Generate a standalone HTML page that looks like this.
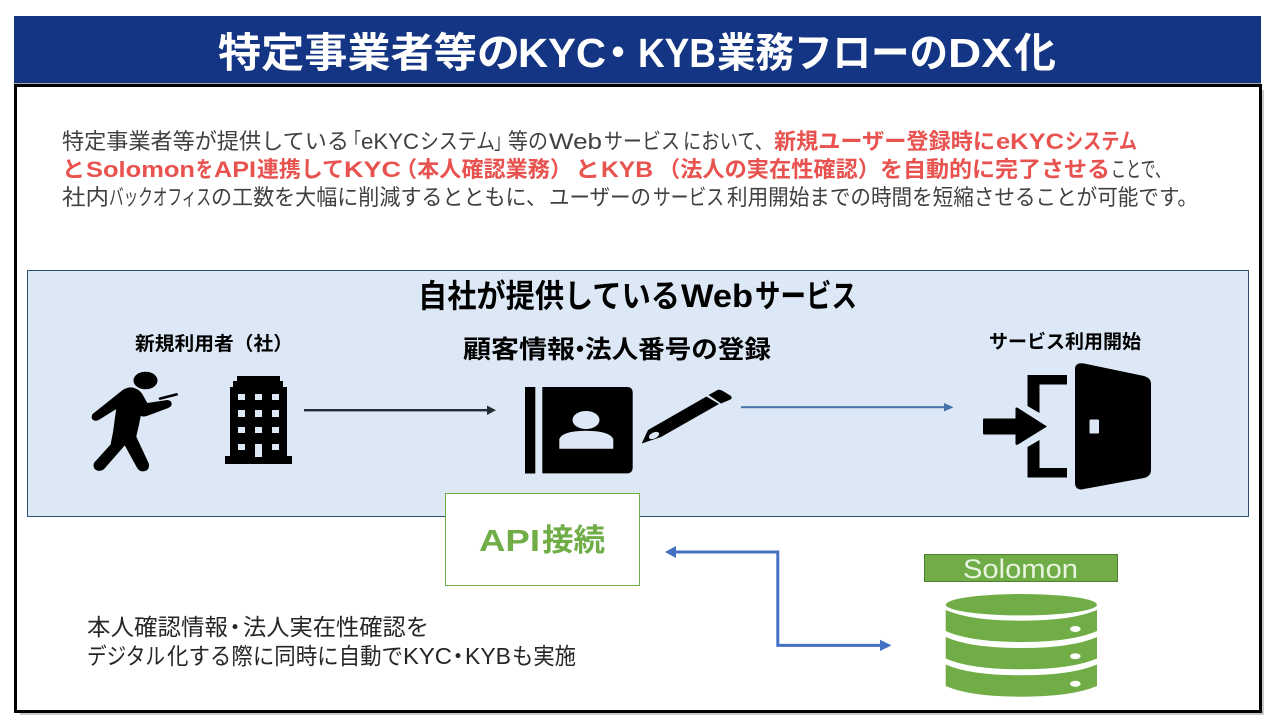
<!DOCTYPE html>
<html lang="ja">
<head>
<meta charset="utf-8">
<style>
html,body{margin:0;padding:0;background:#fff;width:1280px;height:720px;overflow:hidden}
svg{display:block}
text{font-family:"Liberation Sans","Noto Sans CJK JP",sans-serif}
.b{font-weight:700}
.t{font-size:41px;font-weight:700;fill:#fff}
.n{font-size:22px;fill:#404040}
.r{font-size:22px;font-weight:700;fill:#e8524f}
.h{font-size:32px;font-weight:700;fill:#000}
.g{font-size:25px;font-weight:700;fill:#000}
.d{font-size:23px;fill:#262626}
</style>
</head>
<body>
<svg width="1280" height="720" viewBox="0 0 1280 720" xmlns="http://www.w3.org/2000/svg">
<rect width="1280" height="720" fill="#fff"/>
<rect x="14" y="16" width="1247" height="67" fill="#143583"/>
<rect x="14" y="83" width="1247" height="1" fill="#a8a8a8"/>
<path d="M1262 90 H1264 V715 H20 V713 H1262 Z" fill="#c8c8c8"/>
<rect x="15.5" y="85.5" width="1245" height="626" fill="#fff" stroke="#000" stroke-width="3"/>

<!-- title -->
<text class="t" x="218" y="67" textLength="302" lengthAdjust="spacingAndGlyphs">特定事業者等の</text>
<text class="t" x="518" y="67" textLength="88" lengthAdjust="spacingAndGlyphs">KYC</text>
<text class="t" x="618" y="67" text-anchor="middle" font-size="34">・</text>
<text class="t" x="638" y="67" textLength="78" lengthAdjust="spacingAndGlyphs">KYB</text>
<text class="t" x="717" y="67" textLength="231" lengthAdjust="spacingAndGlyphs">業務フローの</text>
<text class="t" x="948" y="67" textLength="64" lengthAdjust="spacingAndGlyphs">DX</text>
<text class="t" x="1014" y="67" textLength="42" lengthAdjust="spacingAndGlyphs">化</text>

<!-- line 1 -->
<text class="n" x="62" y="149" textLength="287" lengthAdjust="spacingAndGlyphs">特定事業者等が提供している</text>
<text class="n" x="345" y="149" textLength="16" lengthAdjust="spacingAndGlyphs">「</text>
<text class="n" x="361" y="149" textLength="58" lengthAdjust="spacingAndGlyphs">eKYC</text>
<text class="n" x="420" y="149" textLength="75" lengthAdjust="spacingAndGlyphs">システム</text>
<text class="n" x="494" y="149" textLength="16" lengthAdjust="spacingAndGlyphs">」</text>
<text class="n" x="508" y="149" textLength="40" lengthAdjust="spacingAndGlyphs">等の</text>
<text class="n" x="549" y="149" textLength="53" lengthAdjust="spacingAndGlyphs">Web</text>
<text class="n" x="604" y="149" textLength="76" lengthAdjust="spacingAndGlyphs">サービス</text>
<text class="n" x="683" y="149" textLength="90" lengthAdjust="spacingAndGlyphs">において、</text>
<text class="r" x="774" y="149" textLength="221" lengthAdjust="spacingAndGlyphs">新規ユーザー登録時に</text>
<text class="r" x="996" y="149" textLength="68" lengthAdjust="spacingAndGlyphs">eKYC</text>
<text class="r" x="1065" y="149" textLength="72" lengthAdjust="spacingAndGlyphs">システム</text>

<!-- line 2 -->
<text class="r" x="62" y="177" textLength="23" lengthAdjust="spacingAndGlyphs">と</text>
<text class="r" x="86" y="177" textLength="109" lengthAdjust="spacingAndGlyphs">Solomon</text>
<text class="r" x="196" y="177" textLength="17" lengthAdjust="spacingAndGlyphs">を</text>
<text class="r" x="214" y="177" textLength="42" lengthAdjust="spacingAndGlyphs">API</text>
<text class="r" x="257" y="177" textLength="87" lengthAdjust="spacingAndGlyphs">連携して</text>
<text class="r" x="344" y="177" textLength="57" lengthAdjust="spacingAndGlyphs">KYC</text>
<text class="r" x="395" y="177" textLength="177" lengthAdjust="spacingAndGlyphs">（本人確認業務）</text>
<text class="r" x="575" y="177" textLength="25" lengthAdjust="spacingAndGlyphs">と</text>
<text class="r" x="601" y="177" textLength="52" lengthAdjust="spacingAndGlyphs">KYB</text>
<text class="r" x="658" y="177" textLength="222" lengthAdjust="spacingAndGlyphs">（法人の実在性確認）</text>
<text class="r" x="880" y="177" textLength="230" lengthAdjust="spacingAndGlyphs">を自動的に完了させる</text>
<text class="n" x="1111" y="177" textLength="59" lengthAdjust="spacingAndGlyphs">ことで、</text>

<!-- line 3 -->
<text class="n" x="62" y="205" textLength="47" lengthAdjust="spacingAndGlyphs">社内</text>
<text class="n" x="109" y="205" textLength="102" lengthAdjust="spacingAndGlyphs">バックオフィス</text>
<text class="n" x="211" y="205" textLength="336" lengthAdjust="spacingAndGlyphs">の工数を大幅に削減するとともに、</text>
<text class="n" x="549" y="205" textLength="102" lengthAdjust="spacingAndGlyphs">ユーザーの</text>
<text class="n" x="653" y="205" textLength="71" lengthAdjust="spacingAndGlyphs">サービス</text>
<text class="n" x="727" y="205" textLength="471" lengthAdjust="spacingAndGlyphs">利用開始までの時間を短縮させることが可能です。</text>

<rect x="27.5" y="270.5" width="1221" height="246" fill="#dce8f5" stroke="#2f5070" stroke-width="1"/>
<text class="h" x="418" y="307" textLength="262" lengthAdjust="spacingAndGlyphs">自社が提供している</text>
<text class="h" x="681" y="307" textLength="72" lengthAdjust="spacingAndGlyphs">Web</text>
<text class="h" x="755" y="307" textLength="102" lengthAdjust="spacingAndGlyphs">サービス</text>
<text class="b" x="135" y="350" font-size="19" fill="#000" textLength="158" lengthAdjust="spacingAndGlyphs">新規利用者（社）</text>
<text class="g" x="463" y="358" textLength="112" lengthAdjust="spacingAndGlyphs">顧客情報</text>
<text class="g" x="580" y="358" text-anchor="middle" font-size="20">・</text>
<text class="g" x="585" y="358" textLength="186" lengthAdjust="spacingAndGlyphs">法人番号の登録</text>
<text class="b" x="989" y="348" font-size="19" fill="#000" textLength="152" lengthAdjust="spacingAndGlyphs">サービス利用開始</text>

<!-- person -->
<ellipse cx="145.5" cy="380.5" rx="12" ry="8.8" fill="#000"/>
<path d="M93.8 414.6 L123.3 391 Q130 386.8 136 390 Q140 392 142 396 L146.7 404.3 L167.5 401.2 Q170.8 401.5 170.4 404.5 Q170 406 167.5 407 L146 415 Q141.5 416 140 413.5 L137.7 425 L135 436.7 L147.7 464 Q148.5 469 144.5 470 Q140 471 138 467 L125 443.3 L103 468.5 Q98.5 471 95.5 468 Q93.5 464.5 96.7 461.7 L111.7 445 L114.3 431.7 L117.7 406.7 L98 419 Q94.5 420.5 93 418 Q92.5 416 93.8 414.6 Z" fill="#000" stroke="#000" stroke-width="2.4" stroke-linejoin="round"/>
<path d="M160 398.6 L176.7 394.4" stroke="#000" stroke-width="2.6" fill="none" stroke-linecap="round"/>

<!-- building -->
<path d="M225 464 V456 H230 V387 H233 V381 H237 V376 H280 V381 H283 V387 H287 V456 H292 V464 Z" fill="#000"/>
<g fill="#dce8f5">
<rect x="238" y="394" width="7" height="6"/><rect x="255" y="394" width="7" height="6"/><rect x="272" y="394" width="7" height="6"/>
<rect x="238" y="410" width="7" height="7"/><rect x="255" y="410" width="7" height="7"/><rect x="272" y="410" width="7" height="7"/>
<rect x="238" y="427" width="7" height="6"/><rect x="255" y="427" width="7" height="6"/><rect x="272" y="427" width="7" height="6"/>
<rect x="238" y="444" width="7" height="6"/><rect x="255" y="444" width="7" height="13"/><rect x="272" y="444" width="7" height="6"/>
</g>

<!-- arrow 1 -->
<rect x="304" y="409" width="184" height="2.4" fill="#262c33"/>
<path d="M487 405.5 L496 410.2 L487 415 Z" fill="#262c33"/>

<!-- book -->
<rect x="525" y="387" width="10.3" height="86.5" fill="#000"/>
<path d="M542.3 387 H627 Q632.7 387 632.7 393 V467 Q632.7 473.4 627 473.4 H542.3 Z" fill="#000"/>
<ellipse cx="586" cy="420" rx="13.5" ry="9" fill="#dce8f5"/>
<path d="M559.3 448.7 V439 Q562 431 586 430.7 Q610 431 613.3 439 V448.7 Z" fill="#dce8f5"/>

<!-- pen -->
<path d="M641.7 443.5 L648 430 L706.5 396.5 L719 404 L661 437 Z" fill="#000"/>
<path d="M708.5 395 L718 389.8 Q720 389.5 722 390.5 L731 396 Q732.5 398 730.5 399.5 L721 403.5 Z" fill="#000"/>
<ellipse cx="654" cy="435.5" rx="5.5" ry="3" transform="rotate(-25 654 435.5)" fill="#dce8f5"/>

<!-- arrow 2 -->
<rect x="741" y="406.2" width="204" height="2" fill="#4472a8"/>
<path d="M944 403 L953.5 407.2 L944 411.5 Z" fill="#4472a8"/>

<!-- door -->
<path d="M1075 368 Q1076 362 1084 363.5 L1144 376 Q1151 378 1151 384 V470 Q1151 476 1144 478 L1084 489 Q1076 491 1075 484 Z" fill="#000"/>
<rect x="1089.5" y="419.5" width="9.5" height="14" rx="1" fill="#dce8f5"/>
<path d="M1027.5 375 H1067 V384.5 H1039.5 V413 L1027.5 406 Z" fill="#000"/>
<path d="M1027.5 447 L1039.5 440 V468 H1067 V477.5 H1027.5 Z" fill="#000"/>
<path d="M983 419.5 Q983 418.5 984 418.5 H1015.5 V408 Q1016 407 1018 408 L1047 426.5 L1018 444.5 Q1016 445.5 1015.5 444 V434.5 H984 Q983 434.5 983 433 Z" fill="#000"/>

<!-- API box -->
<rect x="445.5" y="493.5" width="194" height="92" fill="#fff" stroke="#70ad47" stroke-width="1"/>
<text class="b" x="479" y="551" font-size="31" fill="#70ad47" textLength="61" lengthAdjust="spacingAndGlyphs">API</text>
<text class="b" x="542" y="551" font-size="31" fill="#70ad47" textLength="63" lengthAdjust="spacingAndGlyphs">接続</text>

<!-- elbow -->
<path d="M675 552 H777.8 V645.4 H881" fill="none" stroke="#4472c4" stroke-width="3"/>
<path d="M665 552 L676 546 V558 Z" fill="#4472c4"/>
<path d="M891.5 645.4 L880 639.8 V651 Z" fill="#4472c4"/>

<!-- text -->
<text class="d" x="87" y="635" textLength="141" lengthAdjust="spacingAndGlyphs">本人確認情報</text>
<text class="d" x="235" y="635" text-anchor="middle" font-size="18">・</text>
<text class="d" x="243" y="635" textLength="186" lengthAdjust="spacingAndGlyphs">法人実在性確認を</text>
<text class="d" x="87" y="664" textLength="78" lengthAdjust="spacingAndGlyphs">デジタル</text>
<text class="d" x="167" y="664" textLength="236" lengthAdjust="spacingAndGlyphs">化する際に同時に自動で</text>
<text class="d" x="403" y="664" textLength="49" lengthAdjust="spacingAndGlyphs">KYC</text>
<text class="d" x="458" y="664" text-anchor="middle" font-size="18">・</text>
<text class="d" x="465" y="664" textLength="46" lengthAdjust="spacingAndGlyphs">KYB</text>
<text class="d" x="512" y="664" textLength="64" lengthAdjust="spacingAndGlyphs">も実施</text>

<!-- Solomon -->
<rect x="924.5" y="554.5" width="193" height="27" fill="#70ad47" stroke="#507e32" stroke-width="1"/>
<text x="963" y="578" font-size="27" fill="#e8f3e0" textLength="115" lengthAdjust="spacingAndGlyphs">Solomon</text>

<!-- database -->
<g fill="#70ad47">
<ellipse cx="1021.4" cy="604.7" rx="75.6" ry="10.7"/>
<path d="M945.7 610 Q970 620.7 1021.4 620.7 Q1072 620.7 1097 610 V631 Q1072 642 1021.4 642 Q970 642 945.7 631 Z"/>
<path d="M945.7 637 Q970 648 1021.4 648 Q1072 648 1097 637 V658.5 Q1072 669.3 1021.4 669.3 Q970 669.3 945.7 658.5 Z"/>
<path d="M945.7 664.5 Q970 675.3 1021.4 675.3 Q1072 675.3 1097 664.5 V686 Q1072 696.7 1021.4 696.7 Q970 696.7 945.7 686 Z"/>
</g>
<g fill="#fff">
<ellipse cx="1075.3" cy="629" rx="5.3" ry="3"/>
<ellipse cx="1075.3" cy="656.3" rx="5.3" ry="3"/>
<ellipse cx="1075.3" cy="683.7" rx="5.3" ry="3"/>
</g>
</svg>
</body>
</html>
